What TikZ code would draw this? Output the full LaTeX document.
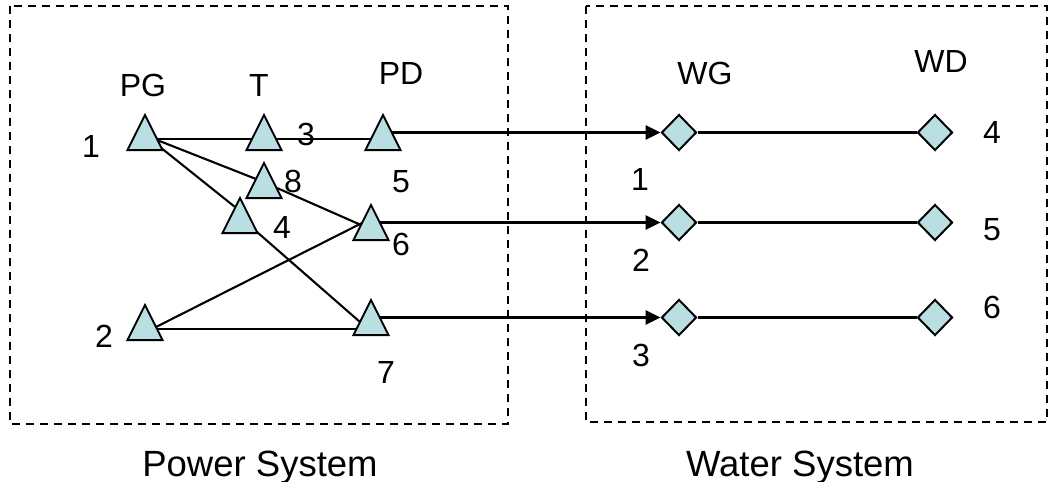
\documentclass[tikz,border=0pt]{standalone}
\usepackage{fontspec}
\setmainfont{Liberation Sans}
\usetikzlibrary{shapes.geometric,arrows.meta,calc}
\definecolor{nodefill}{RGB}{185,223,226}
% triangle hanging from its apex coordinate (y axis points down)
\newcommand\powertri[1]{\filldraw[tri] (#1) -- ++(17.5,35) -- ++(-35,0) -- cycle;}
\begin{document}
\begin{tikzpicture}[x=1pt,y=-1pt,
  tri/.style={draw=black,fill=nodefill,line width=2pt,line join=miter},
  wdiam/.style={diamond,draw=black,fill=nodefill,line width=2pt,
    minimum width=35pt,minimum height=36pt,inner sep=0pt},
  wire/.style={line width=2.1pt},
  feed/.style={line width=2.7pt,-{Triangle[length=15pt,width=14pt]}},
  box/.style={line width=2pt,dash pattern=on 8pt off 6pt},
  lbl/.style={font=\fontsize{32}{36}\selectfont,anchor=base,inner sep=0pt},
  ttl/.style={font=\fontsize{36.5}{40}\selectfont,anchor=base,inner sep=0pt}]
\useasboundingbox (0,0) rectangle (1050,482);

% system frames
\draw[box] (10,6) rectangle (508,424);
\draw[box] (586,6) rectangle (1047,422);

% apexes of the power-system triangles
\coordinate (pg1) at (145,115);
\coordinate (pg2) at (145,305);
\coordinate (t3)  at (264,115);
\coordinate (t8)  at (264,163);
\coordinate (t4)  at (240,198);
\coordinate (pd5) at (383,115);
\coordinate (pd6) at (371,205);
\coordinate (pd7) at (371,300);

% water-system nodes
\node[wdiam] (wg1) at (679,132.5) {};
\node[wdiam] (wg2) at (679,222.5) {};
\node[wdiam] (wg3) at (679,317.5) {};
\node[wdiam] (wd4) at (935,132.5) {};
\node[wdiam] (wd5) at (935,222.5) {};
\node[wdiam] (wd6) at (935,317.5) {};

% power lines
\draw[wire] ($(pg1)+(12,24)$) -- ($(pd5)+(-12,24)$);
\draw[wire] ($(pg1)+(12,25)$) -- ($(t8)+(-8,16)$);
\draw[wire] ($(pg1)+(15,32)$) -- ($(t4)+(-5,9)$);
\draw[wire] ($(t8)+(13,25)$) -- ($(pd6)+(-10,20)$);
\draw[wire] ($(t4)+(17,34)$) -- ($(pd7)+(-11,22)$);
\draw[wire] ($(pg2)+(11,22)$) -- ($(pd6)+(-9,18)$);
\draw[wire] ($(pg2)+(12,24)$) -- ($(pd7)+(-14,29)$);

% couplings from power demand to water generation
\draw[feed] ($(pd5)+(8.75,17.5)$) -- (wg1.west);
\draw[feed] ($(pd6)+(8.75,17.5)$) -- (wg2.west);
\draw[feed] ($(pd7)+(8.75,17.5)$) -- (wg3.west);

% water pipes
\draw[wire] (wg1.east) -- (wd4.west);
\draw[wire] (wg2.east) -- (wd5.west);
\draw[wire] (wg3.east) -- (wd6.west);

% triangles on top of the lines
\powertri{pg1}
\powertri{pg2}
\powertri{t3}
\powertri{t8}
\powertri{t4}
\powertri{pd5}
\powertri{pd6}
\powertri{pd7}

% column headings
\node[lbl] (hpg) at (143,96) {PG};
\node[lbl] (ht)  at (259,96) {T};
\node[lbl] (hpd) at (401,84) {PD};
\node[lbl] (hwg) at (705,84) {WG};
\node[lbl] (hwd) at (941,72) {WD};

% node numbers, power side
\node[lbl] (n1) at (91,157) {1};
\node[lbl] (n3) at (306,145) {3};
\node[lbl] (n8) at (293,192) {8};
\node[lbl] (n5) at (401,192) {5};
\node[lbl] (n4) at (282,238) {4};
\node[lbl] (n6) at (401,255) {6};
\node[lbl] (n2) at (104,347) {2};
\node[lbl] (n7) at (386,383) {7};

% node numbers, water side
\node[lbl] (m1) at (640,190) {1};
\node[lbl] (m2) at (641,271) {2};
\node[lbl] (m3) at (641,366) {3};
\node[lbl] (m4) at (992,143) {4};
\node[lbl] (m5) at (992,240) {5};
\node[lbl] (m6) at (992,318) {6};

% system captions
\node[ttl] (cp) at (260,476) {Power System};
\node[ttl] (cw) at (800,476) {Water System};
\end{tikzpicture}
\end{document}
